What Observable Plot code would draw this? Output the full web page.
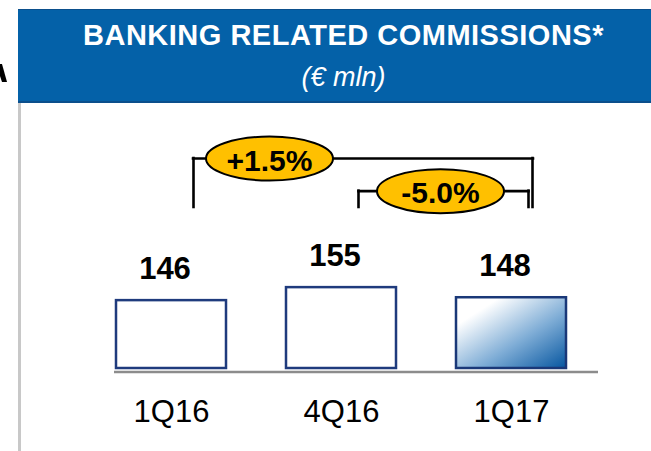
<!DOCTYPE html>
<html><head><meta charset="utf-8">
<script src="https://cdn.jsdelivr.net/npm/d3@7"></script>
<script src="https://cdn.jsdelivr.net/npm/@observablehq/plot@0.6"></script>
<style>
html,body{margin:0;padding:0;background:#fff;width:651px;height:451px;overflow:hidden;position:relative;font-family:"Liberation Sans",Arial,sans-serif;}
#header{position:absolute;left:18px;top:9px;width:660px;height:94px;background:#0461a8;border-top:1px solid #0b4f8c;border-bottom:2px solid #0b4f8c;box-sizing:border-box;}
.htxt{position:absolute;left:18px;width:651px;text-align:center;color:#fff;white-space:nowrap;}
#title{top:21px;font-weight:bold;font-size:29px;line-height:29px;letter-spacing:0.5px;}
#subtitle{top:64px;font-style:italic;font-size:27px;line-height:27px;}
#vline{position:absolute;left:18px;top:103px;width:3px;height:348px;background:#c8c8c8;}
#frag{position:absolute;left:0;top:60px;}
#chart{position:absolute;left:0;top:103px;}
</style>
</head><body>
<svg id="frag" width="10" height="30"><polygon points="0,4 2,4 7,22 2,22 0,16" fill="#000"/></svg>
<div id="header"></div>
<div class="htxt" id="title">BANKING RELATED COMMISSIONS*</div>
<div class="htxt" id="subtitle">(€ mln)</div>
<div id="vline"></div>
<div id="chart"></div>
<script>
// ---- data ----
const categories = ["1Q16", "4Q16", "1Q17"];
const values = [146, 155, 148];
const highlight = ["1Q17"];
const compFrom = ["1Q16", "4Q16"];
const compTo = ["1Q17", "1Q17"];
const compLabels = ["+1.5%", "-5.0%"];

const data = categories.map((c, i) => ({cat: c, value: values[i]}));
const comparisons = compFrom.map((f, i) => ({from: f, to: compTo[i], label: compLabels[i]}));

// ---- layout ----
const yBase = 99;
const bracketTop = [244.4, 221.8];
const bracketBottom = 210.5;
const linkDx = [21.5, 17];
const leftDx = [22, 17];
const rightDx = [21, 17];
const labelDx = [98, 99];

function ellipseSymbol(rx, ry) {
  const k = 0.5523;
  return {draw(ctx) {
    ctx.moveTo(rx, 0);
    ctx.bezierCurveTo(rx, ry * k, rx * k, ry, 0, ry);
    ctx.bezierCurveTo(-rx * k, ry, -rx, ry * k, -rx, 0);
    ctx.bezierCurveTo(-rx, -ry * k, -rx * k, -ry, 0, -ry);
    ctx.bezierCurveTo(rx * k, -ry, rx, -ry * k, rx, 0);
    ctx.closePath();
  }};
}

const compMarks = comparisons.flatMap((c, i) => [
  Plot.link([c], {x1: "from", x2: "to", y1: bracketTop[i], y2: bracketTop[i], dx: linkDx[i], stroke: "#000", strokeWidth: 2.6, strokeLinecap: "square"}),
  Plot.ruleX([c], {x: "from", y1: bracketBottom, y2: bracketTop[i], dx: leftDx[i], stroke: "#000", strokeWidth: 2.6, strokeLinecap: "square"}),
  Plot.ruleX([c], {x: "to", y1: bracketBottom, y2: bracketTop[i], dx: rightDx[i], stroke: "#000", strokeWidth: 2.6, strokeLinecap: "square"}),
  Plot.dot([c], {x: "from", y: bracketTop[i], dx: labelDx[i], symbol: ellipseSymbol(63.5, 22), fill: "#FFC000", stroke: "#000", strokeWidth: 2}),
  Plot.text([c], {x: "from", y: bracketTop[i], dx: labelDx[i], dy: 2.5, text: "label", fontSize: 30, fontWeight: "bold", fill: "#000"})
]);

const chart = Plot.plot({
  width: 651,
  height: 348,
  marginLeft: 0, marginRight: 0, marginTop: 0, marginBottom: 83,
  style: {fontFamily: '"Liberation Sans", Arial, sans-serif', background: "transparent"},
  x: {domain: categories, range: [86, 596], paddingInner: 0.353, paddingOuter: 0.1765, axis: null},
  y: {domain: [yBase, 282.5], axis: null},
  marks: [
    Plot.ruleY([yBase], {stroke: "#8c8c8c", strokeWidth: 2.5, dy: 3.5, insetLeft: 114, insetRight: 53}),
    Plot.barY(data, {filter: d => !highlight.includes(d.cat), x: "cat", y1: yBase, y2: "value", fill: "#fff", stroke: "#1f3b7d", strokeWidth: 2.5}),
    Plot.barY(data, {filter: d => highlight.includes(d.cat), x: "cat", y1: yBase, y2: "value", fill: "url(#barGrad)", stroke: "#1a3878", strokeWidth: 2.5}),
    Plot.text(data, {x: "cat", y: "value", text: d => String(d.value), dy: -32, dx: -6.5, fontSize: 31, fontWeight: "bold", fill: "#000"}),
    Plot.text(data, {x: "cat", y: yBase, text: "cat", dy: 44, fontSize: 31, fill: "#000"}),
    ...compMarks
  ]
});

const defs = d3.select(chart).insert("defs", ":first-child");
const g = defs.append("linearGradient").attr("id", "barGrad").attr("x1", 0).attr("y1", 0).attr("x2", 1).attr("y2", 1);
g.append("stop").attr("offset", "0").attr("stop-color", "#ffffff");
g.append("stop").attr("offset", "0.2").attr("stop-color", "#ffffff");
g.append("stop").attr("offset", "0.6").attr("stop-color", "#7fadd6");
g.append("stop").attr("offset", "1").attr("stop-color", "#0656a0");

document.getElementById("chart").appendChild(chart);
</script>
</body></html>
